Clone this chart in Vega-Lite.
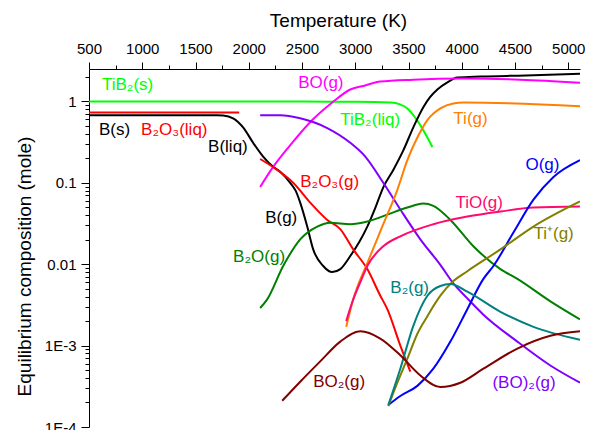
{
  "$schema": "https://vega.github.io/schema/vega-lite/v6.json",
  "width": 491,
  "height": 358,
  "autosize": {"type": "none"},
  "padding": {"left": 89, "top": 69, "right": 9, "bottom": 3},
  "background": "white",
  "config": {
    "view": {"stroke": null},
    "font": "Liberation Sans",
    "axis": {
      "domainColor": "black", "tickColor": "black", "labelColor": "black", "titleColor": "black",
      "labelFont": "Liberation Sans", "titleFont": "Liberation Sans",
      "labelFontSize": 15, "titleFontSize": 19, "titleFontWeight": "normal",
      "grid": false, "domainWidth": 1, "tickWidth": 1, "labelFlush": false, "labelOverlap": false
    }
  },
  "datasets": {
    "curves": [
      {"s": "TiB2", "T": 500, "v": 1.0}, {"s": "TiB2", "T": 1500, "v": 1.0}, {"s": "TiB2", "T": 2500, "v": 0.995}, {"s": "TiB2", "T": 3000, "v": 0.99}, {"s": "TiB2", "T": 3330, "v": 0.97}, {"s": "TiB2", "T": 3420, "v": 0.92}, {"s": "TiB2", "T": 3489, "v": 0.82}, {"s": "TiB2", "T": 3583, "v": 0.58}, {"s": "TiB2", "T": 3677, "v": 0.36}, {"s": "TiB2", "T": 3724, "v": 0.275},
      {"s": "B2O3(liq)", "T": 500, "v": 0.73}, {"s": "B2O3(liq)", "T": 1910, "v": 0.73},
      {"s": "B", "T": 500, "v": 0.675}, {"s": "B", "T": 1700, "v": 0.675}, {"s": "B", "T": 1760, "v": 0.67}, {"s": "B", "T": 1853, "v": 0.62}, {"s": "B", "T": 1947, "v": 0.48}, {"s": "B", "T": 2041, "v": 0.31}, {"s": "B", "T": 2135, "v": 0.21}, {"s": "B", "T": 2229, "v": 0.157}, {"s": "B", "T": 2300, "v": 0.135}, {"s": "B", "T": 2389, "v": 0.1}, {"s": "B", "T": 2440, "v": 0.08}, {"s": "B", "T": 2483, "v": 0.057}, {"s": "B", "T": 2549, "v": 0.029}, {"s": "B", "T": 2605, "v": 0.0152}, {"s": "B", "T": 2699, "v": 0.0095}, {"s": "B", "T": 2784, "v": 0.008}, {"s": "B", "T": 2859, "v": 0.0087}, {"s": "B", "T": 2953, "v": 0.0126}, {"s": "B", "T": 3040, "v": 0.019}, {"s": "B", "T": 3113, "v": 0.029}, {"s": "B", "T": 3190, "v": 0.05}, {"s": "B", "T": 3263, "v": 0.088}, {"s": "B", "T": 3357, "v": 0.144}, {"s": "B", "T": 3451, "v": 0.25}, {"s": "B", "T": 3545, "v": 0.48}, {"s": "B", "T": 3639, "v": 0.85}, {"s": "B", "T": 3700, "v": 1.12}, {"s": "B", "T": 3771, "v": 1.4}, {"s": "B", "T": 3865, "v": 1.71}, {"s": "B", "T": 3958, "v": 1.96}, {"s": "B", "T": 4175, "v": 2.02}, {"s": "B", "T": 4600, "v": 2.08}, {"s": "B", "T": 5110, "v": 2.19},
      {"s": "BO", "T": 2107, "v": 0.089}, {"s": "BO", "T": 2229, "v": 0.157}, {"s": "BO", "T": 2408, "v": 0.31}, {"s": "BO", "T": 2596, "v": 0.59}, {"s": "BO", "T": 2784, "v": 0.97}, {"s": "BO", "T": 2953, "v": 1.4}, {"s": "BO", "T": 3094, "v": 1.57}, {"s": "BO", "T": 3235, "v": 1.75}, {"s": "BO", "T": 3545, "v": 1.85}, {"s": "BO", "T": 4015, "v": 1.91}, {"s": "BO", "T": 4551, "v": 1.85}, {"s": "BO", "T": 5110, "v": 1.7},
      {"s": "(BO)2", "T": 2107, "v": 0.675}, {"s": "(BO)2", "T": 2295, "v": 0.675}, {"s": "(BO)2", "T": 2483, "v": 0.62}, {"s": "(BO)2", "T": 2737, "v": 0.47}, {"s": "(BO)2", "T": 2953, "v": 0.31}, {"s": "(BO)2", "T": 3094, "v": 0.21}, {"s": "(BO)2", "T": 3263, "v": 0.1}, {"s": "(BO)2", "T": 3423, "v": 0.047}, {"s": "(BO)2", "T": 3611, "v": 0.0202}, {"s": "(BO)2", "T": 3799, "v": 0.0098}, {"s": "(BO)2", "T": 3921, "v": 0.0058}, {"s": "(BO)2", "T": 4052, "v": 0.0038}, {"s": "(BO)2", "T": 4203, "v": 0.0024}, {"s": "(BO)2", "T": 4522, "v": 0.00112}, {"s": "(BO)2", "T": 4832, "v": 0.00057}, {"s": "(BO)2", "T": 5110, "v": 0.00035},
      {"s": "B2O3(g)", "T": 2107, "v": 0.196}, {"s": "B2O3(g)", "T": 2267, "v": 0.144}, {"s": "B2O3(g)", "T": 2417, "v": 0.1}, {"s": "B2O3(g)", "T": 2577, "v": 0.057}, {"s": "B2O3(g)", "T": 2737, "v": 0.035}, {"s": "B2O3(g)", "T": 2859, "v": 0.027}, {"s": "B2O3(g)", "T": 2981, "v": 0.0152}, {"s": "B2O3(g)", "T": 3113, "v": 0.0087}, {"s": "B2O3(g)", "T": 3235, "v": 0.0041}, {"s": "B2O3(g)", "T": 3301, "v": 0.0028}, {"s": "B2O3(g)", "T": 3423, "v": 0.001}, {"s": "B2O3(g)", "T": 3517, "v": 0.00048},
      {"s": "B2O", "T": 2107, "v": 0.0029}, {"s": "B2O", "T": 2173, "v": 0.0037}, {"s": "B2O", "T": 2323, "v": 0.0095}, {"s": "B2O", "T": 2483, "v": 0.0202}, {"s": "B2O", "T": 2643, "v": 0.029}, {"s": "B2O", "T": 2765, "v": 0.0324}, {"s": "B2O", "T": 2953, "v": 0.031}, {"s": "B2O", "T": 3113, "v": 0.0334}, {"s": "B2O", "T": 3301, "v": 0.0407}, {"s": "B2O", "T": 3489, "v": 0.0496}, {"s": "B2O", "T": 3639, "v": 0.0555}, {"s": "B2O", "T": 3733, "v": 0.052}, {"s": "B2O", "T": 3893, "v": 0.035}, {"s": "B2O", "T": 4109, "v": 0.0166}, {"s": "B2O", "T": 4363, "v": 0.0087}, {"s": "B2O", "T": 4522, "v": 0.0066}, {"s": "B2O", "T": 4832, "v": 0.0035}, {"s": "B2O", "T": 5110, "v": 0.0021},
      {"s": "Ti", "T": 2915, "v": 0.0017}, {"s": "Ti", "T": 2981, "v": 0.0037}, {"s": "Ti", "T": 3122, "v": 0.011}, {"s": "Ti", "T": 3263, "v": 0.031}, {"s": "Ti", "T": 3395, "v": 0.082}, {"s": "Ti", "T": 3489, "v": 0.19}, {"s": "Ti", "T": 3583, "v": 0.36}, {"s": "Ti", "T": 3677, "v": 0.59}, {"s": "Ti", "T": 3799, "v": 0.82}, {"s": "Ti", "T": 3921, "v": 0.945}, {"s": "Ti", "T": 4015, "v": 0.97}, {"s": "Ti", "T": 5110, "v": 0.87},
      {"s": "TiO", "T": 2915, "v": 0.002}, {"s": "TiO", "T": 2981, "v": 0.0037}, {"s": "TiO", "T": 3047, "v": 0.006}, {"s": "TiO", "T": 3113, "v": 0.0095}, {"s": "TiO", "T": 3263, "v": 0.0166}, {"s": "TiO", "T": 3423, "v": 0.022}, {"s": "TiO", "T": 3733, "v": 0.031}, {"s": "TiO", "T": 4052, "v": 0.0385}, {"s": "TiO", "T": 4363, "v": 0.0444}, {"s": "TiO", "T": 4673, "v": 0.0496}, {"s": "TiO", "T": 5110, "v": 0.051},
      {"s": "O", "T": 3310, "v": 0.000186}, {"s": "O", "T": 3423, "v": 0.00024}, {"s": "O", "T": 3583, "v": 0.00032}, {"s": "O", "T": 3733, "v": 0.00052}, {"s": "O", "T": 3893, "v": 0.00112}, {"s": "O", "T": 4052, "v": 0.0028}, {"s": "O", "T": 4203, "v": 0.0066}, {"s": "O", "T": 4297, "v": 0.0095}, {"s": "O", "T": 4485, "v": 0.0245}, {"s": "O", "T": 4673, "v": 0.062}, {"s": "O", "T": 4861, "v": 0.118}, {"s": "O", "T": 5110, "v": 0.19},
      {"s": "Ti+", "T": 3310, "v": 0.00018}, {"s": "Ti+", "T": 3395, "v": 0.00035}, {"s": "Ti+", "T": 3489, "v": 0.00069}, {"s": "Ti+", "T": 3583, "v": 0.0014}, {"s": "Ti+", "T": 3677, "v": 0.0023}, {"s": "Ti+", "T": 3799, "v": 0.0041}, {"s": "Ti+", "T": 3921, "v": 0.0062}, {"s": "Ti+", "T": 4052, "v": 0.0082}, {"s": "Ti+", "T": 4363, "v": 0.0152}, {"s": "Ti+", "T": 4673, "v": 0.029}, {"s": "Ti+", "T": 5110, "v": 0.059},
      {"s": "B2", "T": 3310, "v": 0.000186}, {"s": "B2", "T": 3423, "v": 0.00052}, {"s": "B2", "T": 3545, "v": 0.00175}, {"s": "B2", "T": 3677, "v": 0.0041}, {"s": "B2", "T": 3799, "v": 0.0054}, {"s": "B2", "T": 3893, "v": 0.0057}, {"s": "B2", "T": 4052, "v": 0.0046}, {"s": "B2", "T": 4363, "v": 0.0026}, {"s": "B2", "T": 4673, "v": 0.0017}, {"s": "B2", "T": 5110, "v": 0.00118},
      {"s": "BO2", "T": 2314, "v": 0.00021}, {"s": "BO2", "T": 2483, "v": 0.00036}, {"s": "BO2", "T": 2671, "v": 0.00064}, {"s": "BO2", "T": 2859, "v": 0.00112}, {"s": "BO2", "T": 3047, "v": 0.0015}, {"s": "BO2", "T": 3235, "v": 0.00122}, {"s": "BO2", "T": 3423, "v": 0.00076}, {"s": "BO2", "T": 3611, "v": 0.00043}, {"s": "BO2", "T": 3799, "v": 0.00031}, {"s": "BO2", "T": 3987, "v": 0.00035}, {"s": "BO2", "T": 4203, "v": 0.00052}, {"s": "BO2", "T": 4522, "v": 0.00092}, {"s": "BO2", "T": 4832, "v": 0.00132}, {"s": "BO2", "T": 5110, "v": 0.0015}
    ],
    "labels": [
      {"s": "TiB2", "label": "TiB₂(s)", "T": 622, "v": 1.57},
      {"s": "B", "label": "B(s)", "T": 594, "v": 0.443},
      {"s": "B2O3(liq)", "label": "B₂O₃(liq)", "T": 989, "v": 0.443},
      {"s": "B", "label": "B(liq)", "T": 1618, "v": 0.275},
      {"s": "BO", "label": "BO(g)", "T": 2464, "v": 1.66},
      {"s": "TiB2", "label": "TiB₂(liq)", "T": 2859, "v": 0.59},
      {"s": "Ti", "label": "Ti(g)", "T": 3921, "v": 0.6},
      {"s": "O", "label": "O(g)", "T": 4598, "v": 0.166},
      {"s": "B2O3(g)", "label": "B₂O₃(g)", "T": 2483, "v": 0.103},
      {"s": "B", "label": "B(g)", "T": 2154, "v": 0.037},
      {"s": "TiO", "label": "TiO(g)", "T": 3940, "v": 0.057},
      {"s": "Ti+", "label": "Ti⁺(g)", "T": 4673, "v": 0.0233},
      {"s": "B2O", "label": "B₂O(g)", "T": 1853, "v": 0.0122},
      {"s": "B2", "label": "B₂(g)", "T": 3329, "v": 0.0051},
      {"s": "BO2", "label": "BO₂(g)", "T": 2605, "v": 0.00036},
      {"s": "(BO)2", "label": "(BO)₂(g)", "T": 4288, "v": 0.00035}
    ]
  },
  "layer": [
    {
      "data": {"name": "curves"},
      "mark": {"type": "line", "strokeWidth": 2, "interpolate": "monotone", "clip": true},
      "encoding": {
        "x": {"field": "T", "type": "quantitative", "scale": {"domain": [500, 5110], "nice": false, "zero": false},
              "axis": {"orient": "top", "title": "Temperature (K)", "format": "d", "values": [500, 1000, 1500, 2000, 2500, 3000, 3500, 4000, 4500, 5000],
                       "tickSize": 7, "labelPadding": 6, "titlePadding": 11, "titleX": 249}},
        "y": {"field": "v", "type": "quantitative", "scale": {"type": "log", "domain": [0.0001, 2.5], "nice": false},
              "axis": {"orient": "left", "title": "Equilibrium composition (mole)", "values": [0.0001, 0.001, 0.01, 0.1, 1],
                       "labelExpr": "datum.value < 0.0005 ? '1E-4' : datum.value < 0.005 ? '1E-3' : datum.value < 0.05 ? '0.01' : datum.value < 0.5 ? '0.1' : '1'",
                       "tickSize": 8, "labelPadding": 5, "titlePadding": 10, "titleY": 197}},
        "color": {"field": "s", "type": "nominal",
                  "scale": {"domain": ["TiB2", "B2O3(liq)", "B", "BO", "(BO)2", "B2O3(g)", "B2O", "Ti", "TiO", "O", "Ti+", "B2", "BO2"],
                            "range": ["#00ff00", "#ff0000", "#000000", "#ff00ff", "#8000ff", "#ff0000", "#007f00", "#ff8000", "#ff0a6e", "#0000ff", "#808000", "#008080", "#800000"]},
                  "legend": null}
      }
    },
    {
      "data": {"name": "labels"},
      "mark": {"type": "text", "align": "left", "baseline": "middle", "fontSize": 17, "font": "Liberation Sans"},
      "encoding": {
        "x": {"field": "T", "type": "quantitative", "scale": {"domain": [500, 5110], "nice": false, "zero": false},
              "axis": {"orient": "top", "title": null, "labels": false, "domain": false, "tickSize": 4,
                       "values": [750, 1250, 1750, 2250, 2750, 3250, 3750, 4250, 4750]}},
        "y": {"field": "v", "type": "quantitative", "scale": {"type": "log", "domain": [0.0001, 2.5], "nice": false},
              "axis": {"orient": "left", "title": null, "labels": false, "domain": false, "tickSize": 4,
                       "values": [0.0002, 0.0003, 0.0004, 0.0005, 0.0006, 0.0007, 0.0008, 0.0009, 0.002, 0.003, 0.004, 0.005, 0.006, 0.007, 0.008, 0.009, 0.02, 0.03, 0.04, 0.05, 0.06, 0.07, 0.08, 0.09, 0.2, 0.3, 0.4, 0.5, 0.6, 0.7, 0.8, 0.9, 2]}},
        "text": {"field": "label"},
        "color": {"field": "s", "type": "nominal", "legend": null}
      }
    }
  ],
  "resolve": {"axis": {"x": "independent", "y": "independent"}}
}
